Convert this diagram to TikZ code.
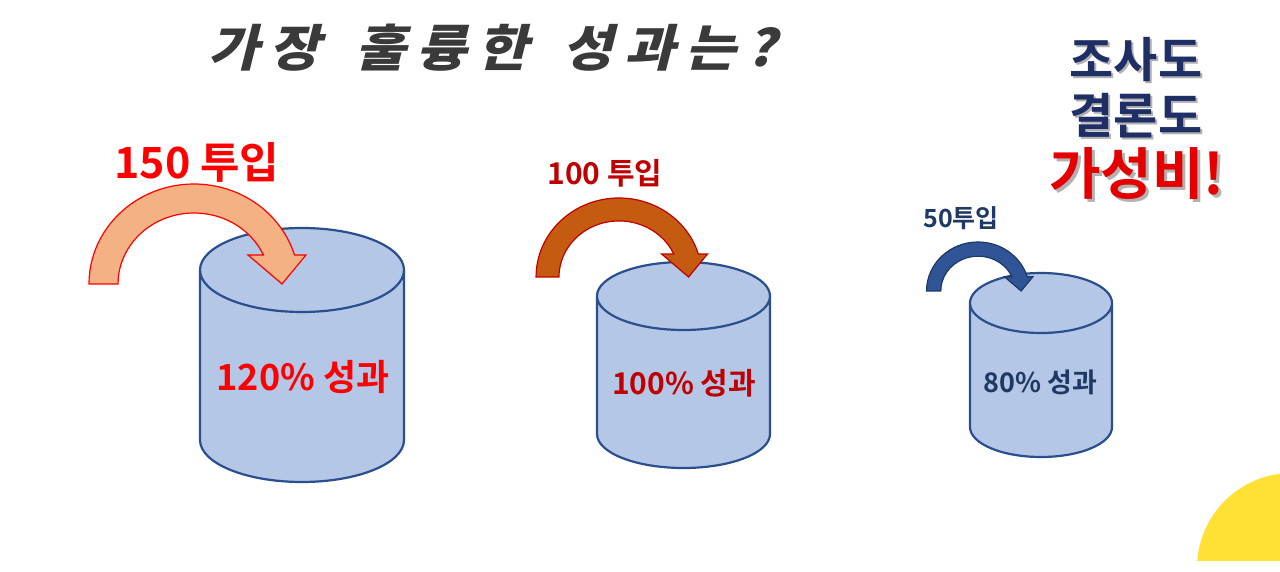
\documentclass[tikz,border=0pt]{standalone}
\usepackage{fontspec}
\usetikzlibrary{positioning}
\newfontfamily\krfont{Noto Sans CJK KR Bold}
\newfontfamily\krtitle{Noto Sans CJK KR Black}[FakeSlant=0.25,FakeStretch=1.1,LetterSpace=21]
\definecolor{drumfill}{HTML}{B4C7E7}
\definecolor{drumedge}{HTML}{2B4F8C}
\definecolor{peach}{HTML}{F4B183}
\definecolor{rust}{HTML}{C55A11}
\definecolor{steel}{HTML}{2F5597}
\definecolor{navy}{HTML}{1F3864}
\definecolor{ink}{HTML}{1F2F66}
\definecolor{darkred}{HTML}{C00000}
\definecolor{brightred}{HTML}{FF0000}
\definecolor{sunny}{HTML}{FFE135}
\definecolor{titlegray}{HTML}{3A3A3A}

\begin{document}
\begin{tikzpicture}[
  x=0.5pt, y=-0.5pt,
  drum/.style n args={3}{draw=drumedge, fill=drumfill, line width=1.1pt,
    insert path={(-#1,0) -- (-#1,#3)
      arc[start angle=180, end angle=0, x radius=#1, y radius=#2] -- (#1,0)
      arc[start angle=0, end angle=-180, x radius=#1, y radius=#2] -- cycle
      (-#1,0) arc[start angle=180, end angle=0, x radius=#1, y radius=#2]}},
  curl/.style={line width=0.6pt, line join=miter,
    insert path={(-105,0)
      arc[start angle=180, end angle=343.14, x radius=105, y radius=100]
      -- (112,-29) -- (88,0) -- (54,-29) -- (69.4,-29)
      arc[start angle=335.89, end angle=180, x radius=76, y radius=71] -- cycle}},
  tag/.style={inner sep=0pt, font=\krfont},
  shade/.style={inner sep=0pt, font=\krfont, text=black!30}
]
  \useasboundingbox (0,0) rectangle (1280,572);
  \fill[white] (0,0) rectangle (1280,572);

  % corner decoration
  \begin{scope}
    \clip (0,0) rectangle (1280,560);
    \fill[sunny] (1292,568) circle[radius=95];
  \end{scope}

  % title
  \node[tag, font=\krtitle\fontsize{25}{25}\selectfont, text=titlegray] (ask)
    at (492,48) {가장\hspace{6pt} 훌륭한\hspace{6pt} 성과는?};

  % drums
  \path[shift={(302,270)}, drum={102}{42}{170}];
  \path[shift={(683.5,296)}, drum={86.5}{34}{138}];
  \path[shift={(1041,303)}, drum={71}{30}{124}];

  % input arrows
  \path[draw=brightred, fill=peach, shift={(194,284)}, curl];
  \path[draw=darkred, fill=rust, shift={(619,277)}, scale=0.79, curl];
  \path[draw=navy, fill=steel, shift={(978,291)}, scale=0.49, curl];

  % input labels
  \node[tag, text=brightred, font=\krfont\fontsize{21.5}{21.5}\selectfont] (in150)
    at (197,162) {150 투입};
  \node[tag, text=darkred, font=\krfont\fontsize{15}{15}\selectfont] (in100)
    at (605,173) {100 투입};
  \node[tag, text=navy, font=\krfont\fontsize{12.5}{12.5}\selectfont] (in50)
    at (961,218) {50투입};

  % results
  \node[tag, text=brightred, font=\krfont\fontsize{18}{18}\selectfont] (out120)
    at (303,377) {120\% 성과};
  \node[tag, text=darkred, font=\krfont\fontsize{15}{15}\selectfont] (out100)
    at (684,383) {100\% 성과};
  \node[tag, text=navy, font=\krfont\fontsize{13.5}{13.5}\selectfont] (out80)
    at (1040,382) {80\% 성과};

  % verdict
  \node[shade, font=\krfont\fontsize{24}{24}\selectfont] (survey shade)
    at (1138,62) {조사도};
  \node[tag, text=ink, font=\krfont\fontsize{24}{24}\selectfont] (survey)
    at (1136,60) {조사도};
  \node[shade, font=\krfont\fontsize{24}{24}\selectfont] (result shade)
    at (1138,118) {결론도};
  \node[tag, text=ink, font=\krfont\fontsize{24}{24}\selectfont] (result)
    at (1136,116) {결론도};
  \node[shade, font=\krfont\fontsize{28}{28}\selectfont] (value shade)
    at (1140,177) {가성비!};
  \node[tag, text=red!90!black, font=\krfont\fontsize{28}{28}\selectfont] (value)
    at (1137,174) {가성비!};
\end{tikzpicture}
\end{document}
